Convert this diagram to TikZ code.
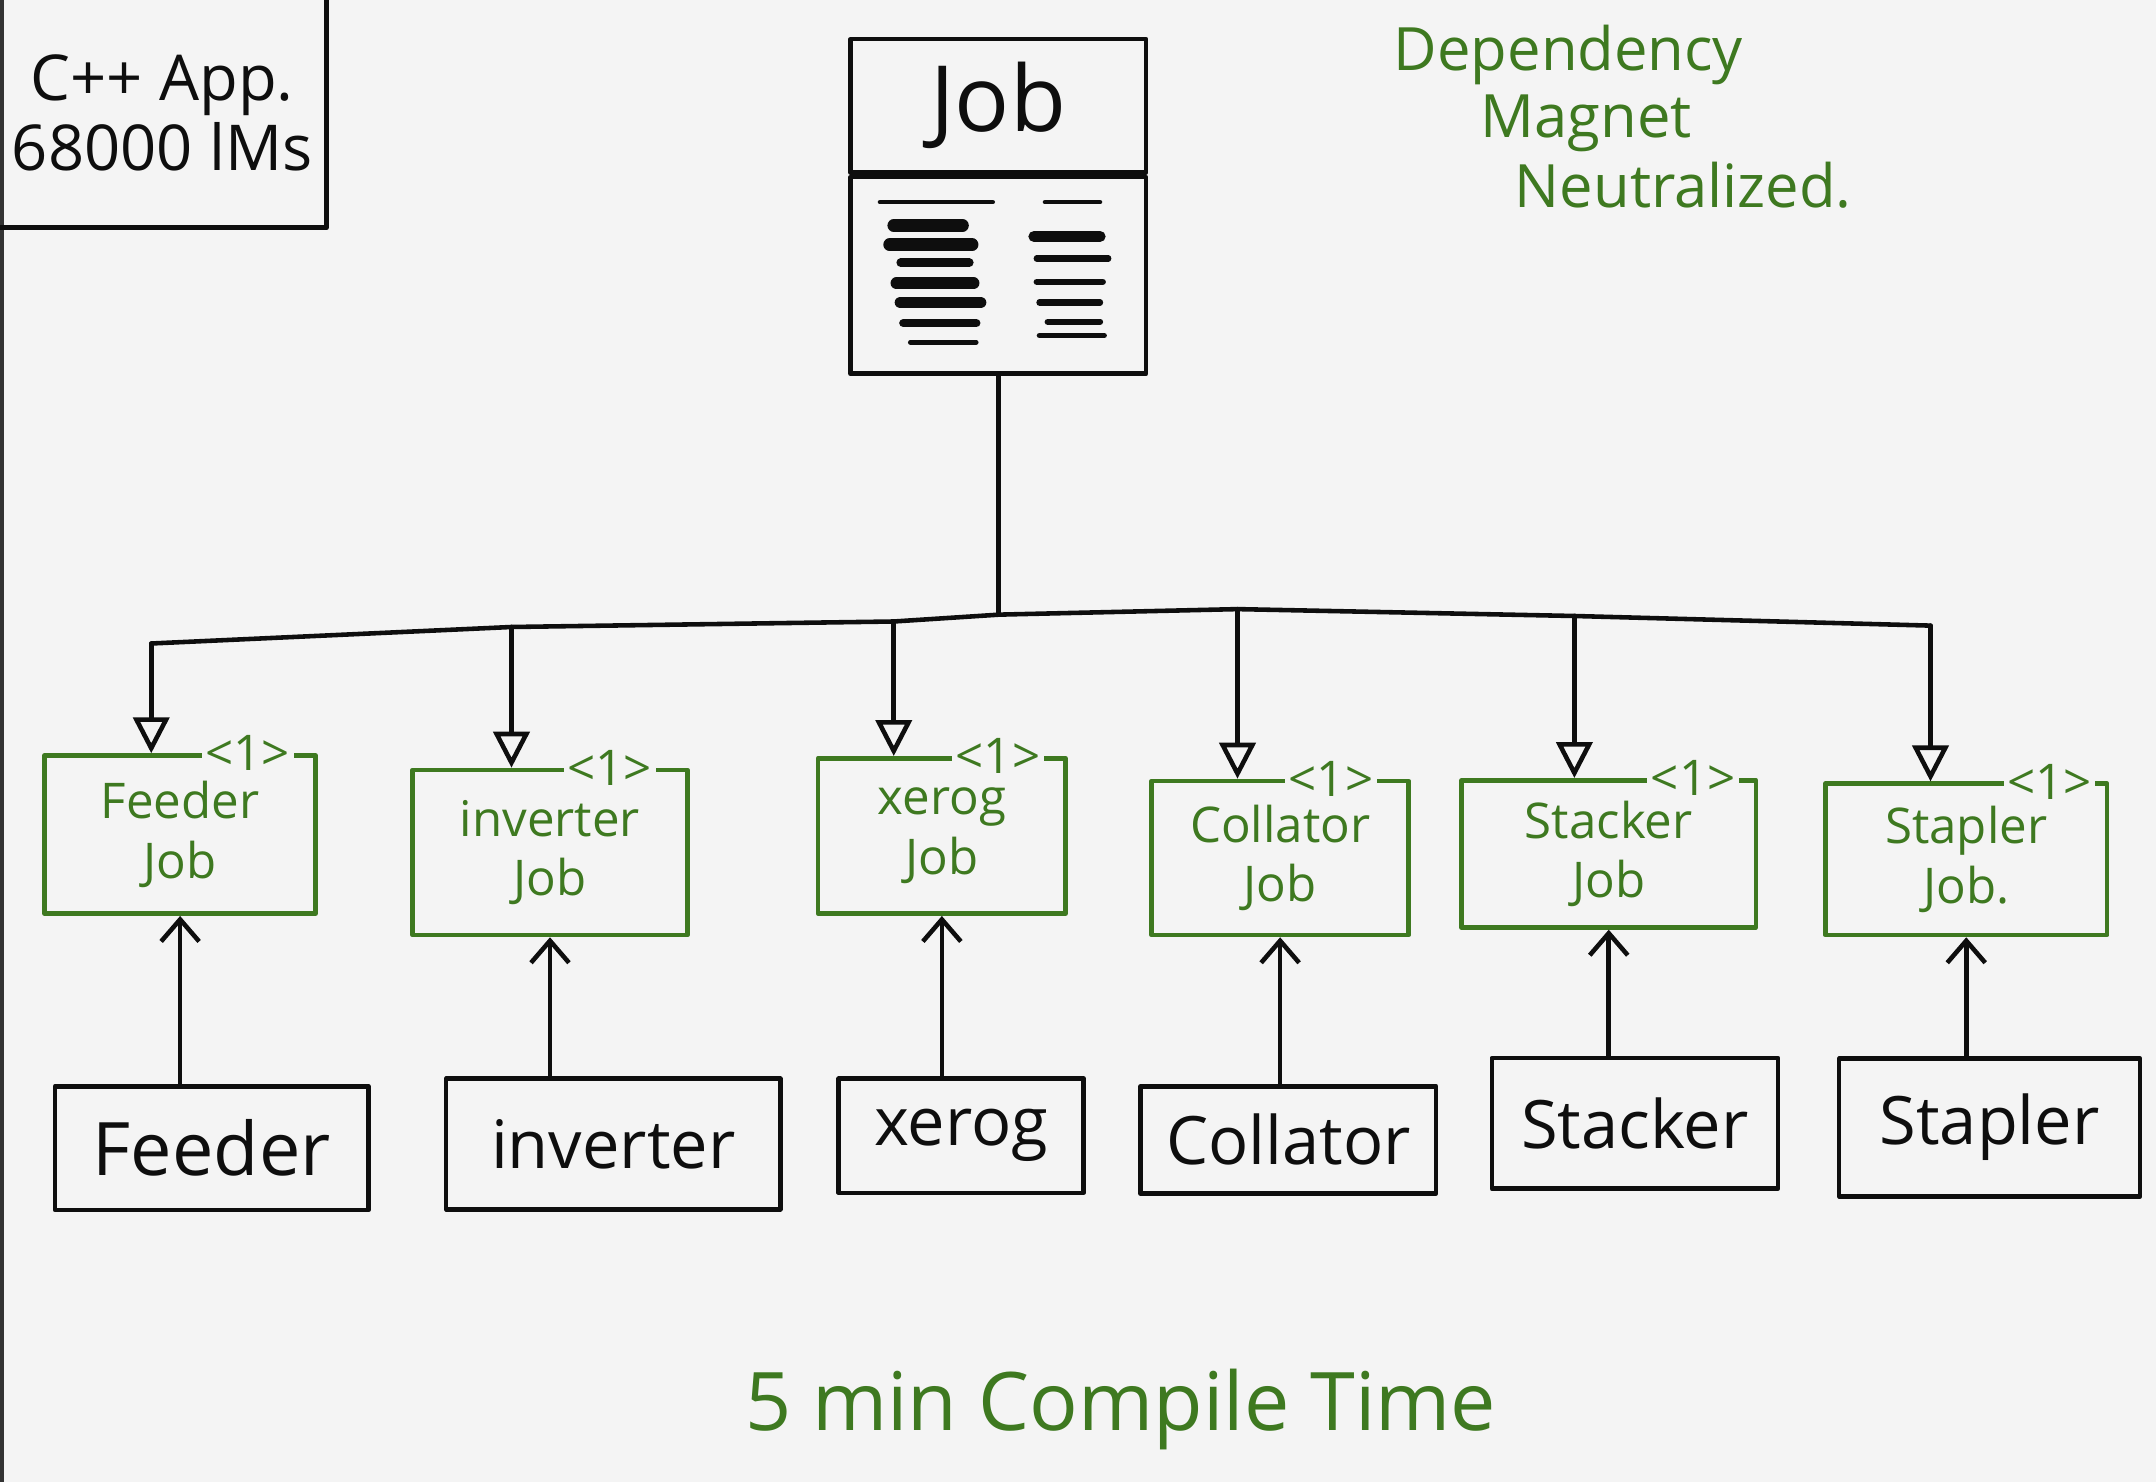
\documentclass[tikz,border=0pt]{standalone}
\usepackage{fontspec}
\setmainfont{Open Sans}
\usepackage{xcolor}
\usetikzlibrary{positioning, calc, arrows.meta}
\definecolor{paper}{RGB}{244,244,244}
\definecolor{ink}{RGB}{14,14,14}
\definecolor{jobgreen}{RGB}{62,121,32}
\tikzset{
  devbox/.style 2 args={draw=ink, text=ink, minimum width=#1*0.1375mm,
    minimum height=#2*0.1375mm, inner sep=0pt, font=\fontsize{19}{22}\selectfont},
  tmplbox/.style 2 args={draw=jobgreen, text=jobgreen, minimum width=#1*0.1375mm,
    minimum height=#2*0.1375mm, inner sep=0pt, align=center, font=\fontsize{14}{17}\selectfont},
  multiplicity/.style={fill=paper, text=jobgreen, inner sep=1pt, font=\fontsize{14}{14}\selectfont},
  note/.style={text=jobgreen, inner sep=0pt, font=\fontsize{17}{20}\selectfont}
}

\begin{document}
\begin{tikzpicture}[x=0.1375mm, y=-0.1375mm, line width=1.3pt, line cap=round, line join=round, draw=ink,
    generalize/.style={draw=ink, -{Triangle[open, length=3.6mm, width=3.6mm]}},
    uses/.style={draw=ink, -{Straight Barb[length=2.2mm, width=3.8mm]}} ]
    \useasboundingbox (0,0) rectangle (1568,1078);
    \fill [paper] (0,0) rectangle (1568,1078);
    \fill [black!80] (0,0) rectangle (3,1078);
    % application corner
    \node [align=center, text=ink, font=\fontsize{18}{20}\selectfont,
      minimum width=233*0.1375mm, minimum height=164*0.1375mm] (app) at (118,82) {C++ App.\\68000 lMs};
    \draw (app.north east) -- (app.south east) -- (app.south west);
    % base job
    \node [devbox={215}{97}, font=\fontsize{26}{30}\selectfont] (job) at (726,77) {Job};
    \node [devbox={215}{143}, below=0pt of job] (jobbody) {};
    \foreach \y/\a/\b/\w in {147/640/722/1.3, 164/650/700/3.6, 178/647/707/3.6, 191/655/705/2.4,
        206/652/708/3.4, 220/655/713/3.4, 235/657/710/2.4, 249/662/710/1.3,
        147/760/800/1.3, 172/752/800/3.2, 188/754/806/1.8, 205/754/802/1.8,
        220/756/800/1.8, 234/762/800/1.8, 244/756/803/1.6}
      \draw [line width=\w pt] (\a,\y) -- (\b,\y);
    \node [note] (dep) at (1012,40) [anchor=west] {Dependency};
    \node [note] (mag) at (1075,90) [anchor=west] {Magnet};
    \node [note] (neu) at (1100,135) [anchor=west] {Neutralized.};
    % bus
    \coordinate (b1) at (110,468);
    \coordinate (b2) at (372,456);
    \coordinate (b3) at (650,452);
    \coordinate (jct) at (727,447);
    \coordinate (b4) at (900,443);
    \coordinate (b5) at (1145,448);
    \coordinate (b6) at (1404,455);
    \draw [-] (jobbody.south) to (jobbody.south |- jct);
    \draw (b1) -- (b2) -- (b3) -- (jct) -- (b4) -- (b5) -- (b6);
    % template jobs
    \node [tmplbox={197}{115}] (fj) at (131,607) {Feeder\\Job};
    \node [tmplbox={200}{120}] (ij) at (400,620) {inverter\\Job};
    \node [tmplbox={180}{113}] (xj) at (685,608) {xerog\\Job};
    \node [tmplbox={187}{112}] (cj) at (931,624) {Collator\\Job};
    \node [tmplbox={214}{107}] (sj) at (1170,621) {Stacker\\Job};
    \node [tmplbox={205}{110}] (pj) at (1430,625) {Stapler\\Job.};
    \node [multiplicity] (fjm) at ([xshift=-7mm]fj.north east) {<1>};
    \node [multiplicity] (ijm) at ([xshift=-8mm]ij.north east) {<1>};
    \node [multiplicity] (xjm) at ([xshift=-7mm]xj.north east) {<1>};
    \node [multiplicity] (cjm) at ([xshift=-8mm]cj.north east) {<1>};
    \node [multiplicity] (sjm) at ([xshift=-6.5mm]sj.north east) {<1>};
    \node [multiplicity] (pjm) at ([xshift=-6mm]pj.north east) {<1>};
    \draw [generalize] (b1) to (b1 |- fj.north);
    \draw [generalize] (b2) to (b2 |- ij.north);
    \draw [generalize] (b3) to (b3 |- xj.north);
    \draw [generalize] (b4) to (b4 |- cj.north);
    \draw [generalize] (b5) to (b5 |- sj.north);
    \draw [generalize] (b6) to (b6 |- pj.north);
    % devices
    \node [devbox={228}{90}, font=\fontsize{21}{24}\selectfont] (feeder) at (154,835) {Feeder};
    \node [devbox={243}{95}] (inverter) at (446,832) {inverter};
    \node [devbox={178}{83}] (xerog) at (699,826) {xerog};
    \node [devbox={215}{78}] (collator) at (937,829) {Collator};
    \node [devbox={208}{95}] (stacker) at (1189,817) {Stacker};
    \node [devbox={219}{100}] (stapler) at (1447,820) {Stapler};
    \draw [uses] (fj.south |- feeder.north) to (fj.south);
    \draw [uses] (ij.south |- inverter.north) to (ij.south);
    \draw [uses] (xj.south |- xerog.north) to (xj.south);
    \draw [uses] (cj.south |- collator.north) to (cj.south);
    \draw [uses] (sj.south |- stacker.north) to (sj.south);
    \draw [uses] (pj.south |- stapler.north) to (pj.south);
    \node [note, font=\fontsize{23}{26}\selectfont] (ctime) at (815,1025) {5 min Compile Time};
\end{tikzpicture}
\end{document}
